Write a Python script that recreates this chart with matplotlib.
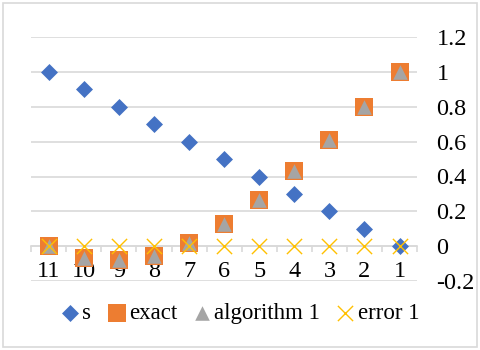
import matplotlib
matplotlib.use("Agg")
import matplotlib.pyplot as plt
import numpy as np
from matplotlib.patches import Rectangle

categories = ["11", "10", "9", "8", "7", "6", "5", "4", "3", "2", "1"]
s = [1.0, 0.9, 0.8, 0.7, 0.6, 0.5, 0.4, 0.3, 0.2, 0.1, 0.0]
exact = [0.0, -0.07, -0.08, -0.055, 0.02, 0.13, 0.265, 0.43, 0.61, 0.80, 1.0]
algorithm1 = [0.0, -0.07, -0.08, -0.055, 0.02, 0.13, 0.265, 0.43, 0.61, 0.80, 1.0]
error1 = [0.0, 0.0, 0.0, 0.0, 0.0, 0.0, 0.0, 0.0, 0.0, 0.0, 0.0]
yticks = [-0.2, 0, 0.2, 0.4, 0.6, 0.8, 1, 1.2]
ytick_labels = ["-0.2", "0", "0.2", "0.4", "0.6", "0.8", "1", "1.2"]

plt.rcParams['font.family'] = ['Liberation Serif', 'DejaVu Serif']

fig = plt.figure(figsize=(4.8, 3.5), dpi=100)
fig.patches.append(Rectangle((0.006, 0.009), 0.988, 0.982, transform=fig.transFigure,
                             fill=False, edgecolor='#D9D9D9', linewidth=1.2))
ax = fig.add_axes([0.065, 0.197, 0.804, 0.697])

x = np.arange(len(categories)) + 0.5
ax.scatter(x, s, marker='D', s=75, color='#4472C4', zorder=3, label='s', linewidths=0)
ax.scatter(x, exact, marker='s', s=150, color='#ED7D31', zorder=4, label='exact', linewidths=0)
ax.scatter(x, algorithm1, marker='^', s=110, color='#A5A5A5', zorder=5, label='algorithm 1', linewidths=0)
ax.scatter(x, error1, marker='x', s=120, color='#FFC000', zorder=6, label='error 1', linewidths=1.0)

ax.set_xlim(0, 11)
ax.set_ylim(-0.2, 1.2)
ax.set_yticks(yticks)
ax.set_yticklabels(ytick_labels)
ax.yaxis.tick_right()
ax.tick_params(axis='y', length=0, labelsize=17.5, pad=14)
ax.grid(axis='y', color='#D9D9D9', linewidth=1.2)
ax.set_axisbelow(True)

ax.spines['bottom'].set_position(('data', 0))
ax.spines['bottom'].set_color('#D9D9D9')
ax.spines['bottom'].set_linewidth(1.2)
for sp in ['top', 'left', 'right']:
    ax.spines[sp].set_visible(False)

ax.set_xticks(x)
ax.set_xticklabels(categories)
ax.set_xticks(np.arange(0, 12), minor=True)
ax.tick_params(axis='x', which='major', length=0, labelsize=17.5, pad=11)
ax.tick_params(axis='x', which='minor', length=4, color='#D9D9D9', width=1.2, direction='out')

fig.legend(loc='center', bbox_to_anchor=(0.5, 0.103), ncol=4, frameon=False,
           fontsize=16.5, handletextpad=0.13, columnspacing=0.7, handlelength=0.8,
           scatterpoints=1, borderaxespad=0)

fig.savefig('out.png', dpi=100)
